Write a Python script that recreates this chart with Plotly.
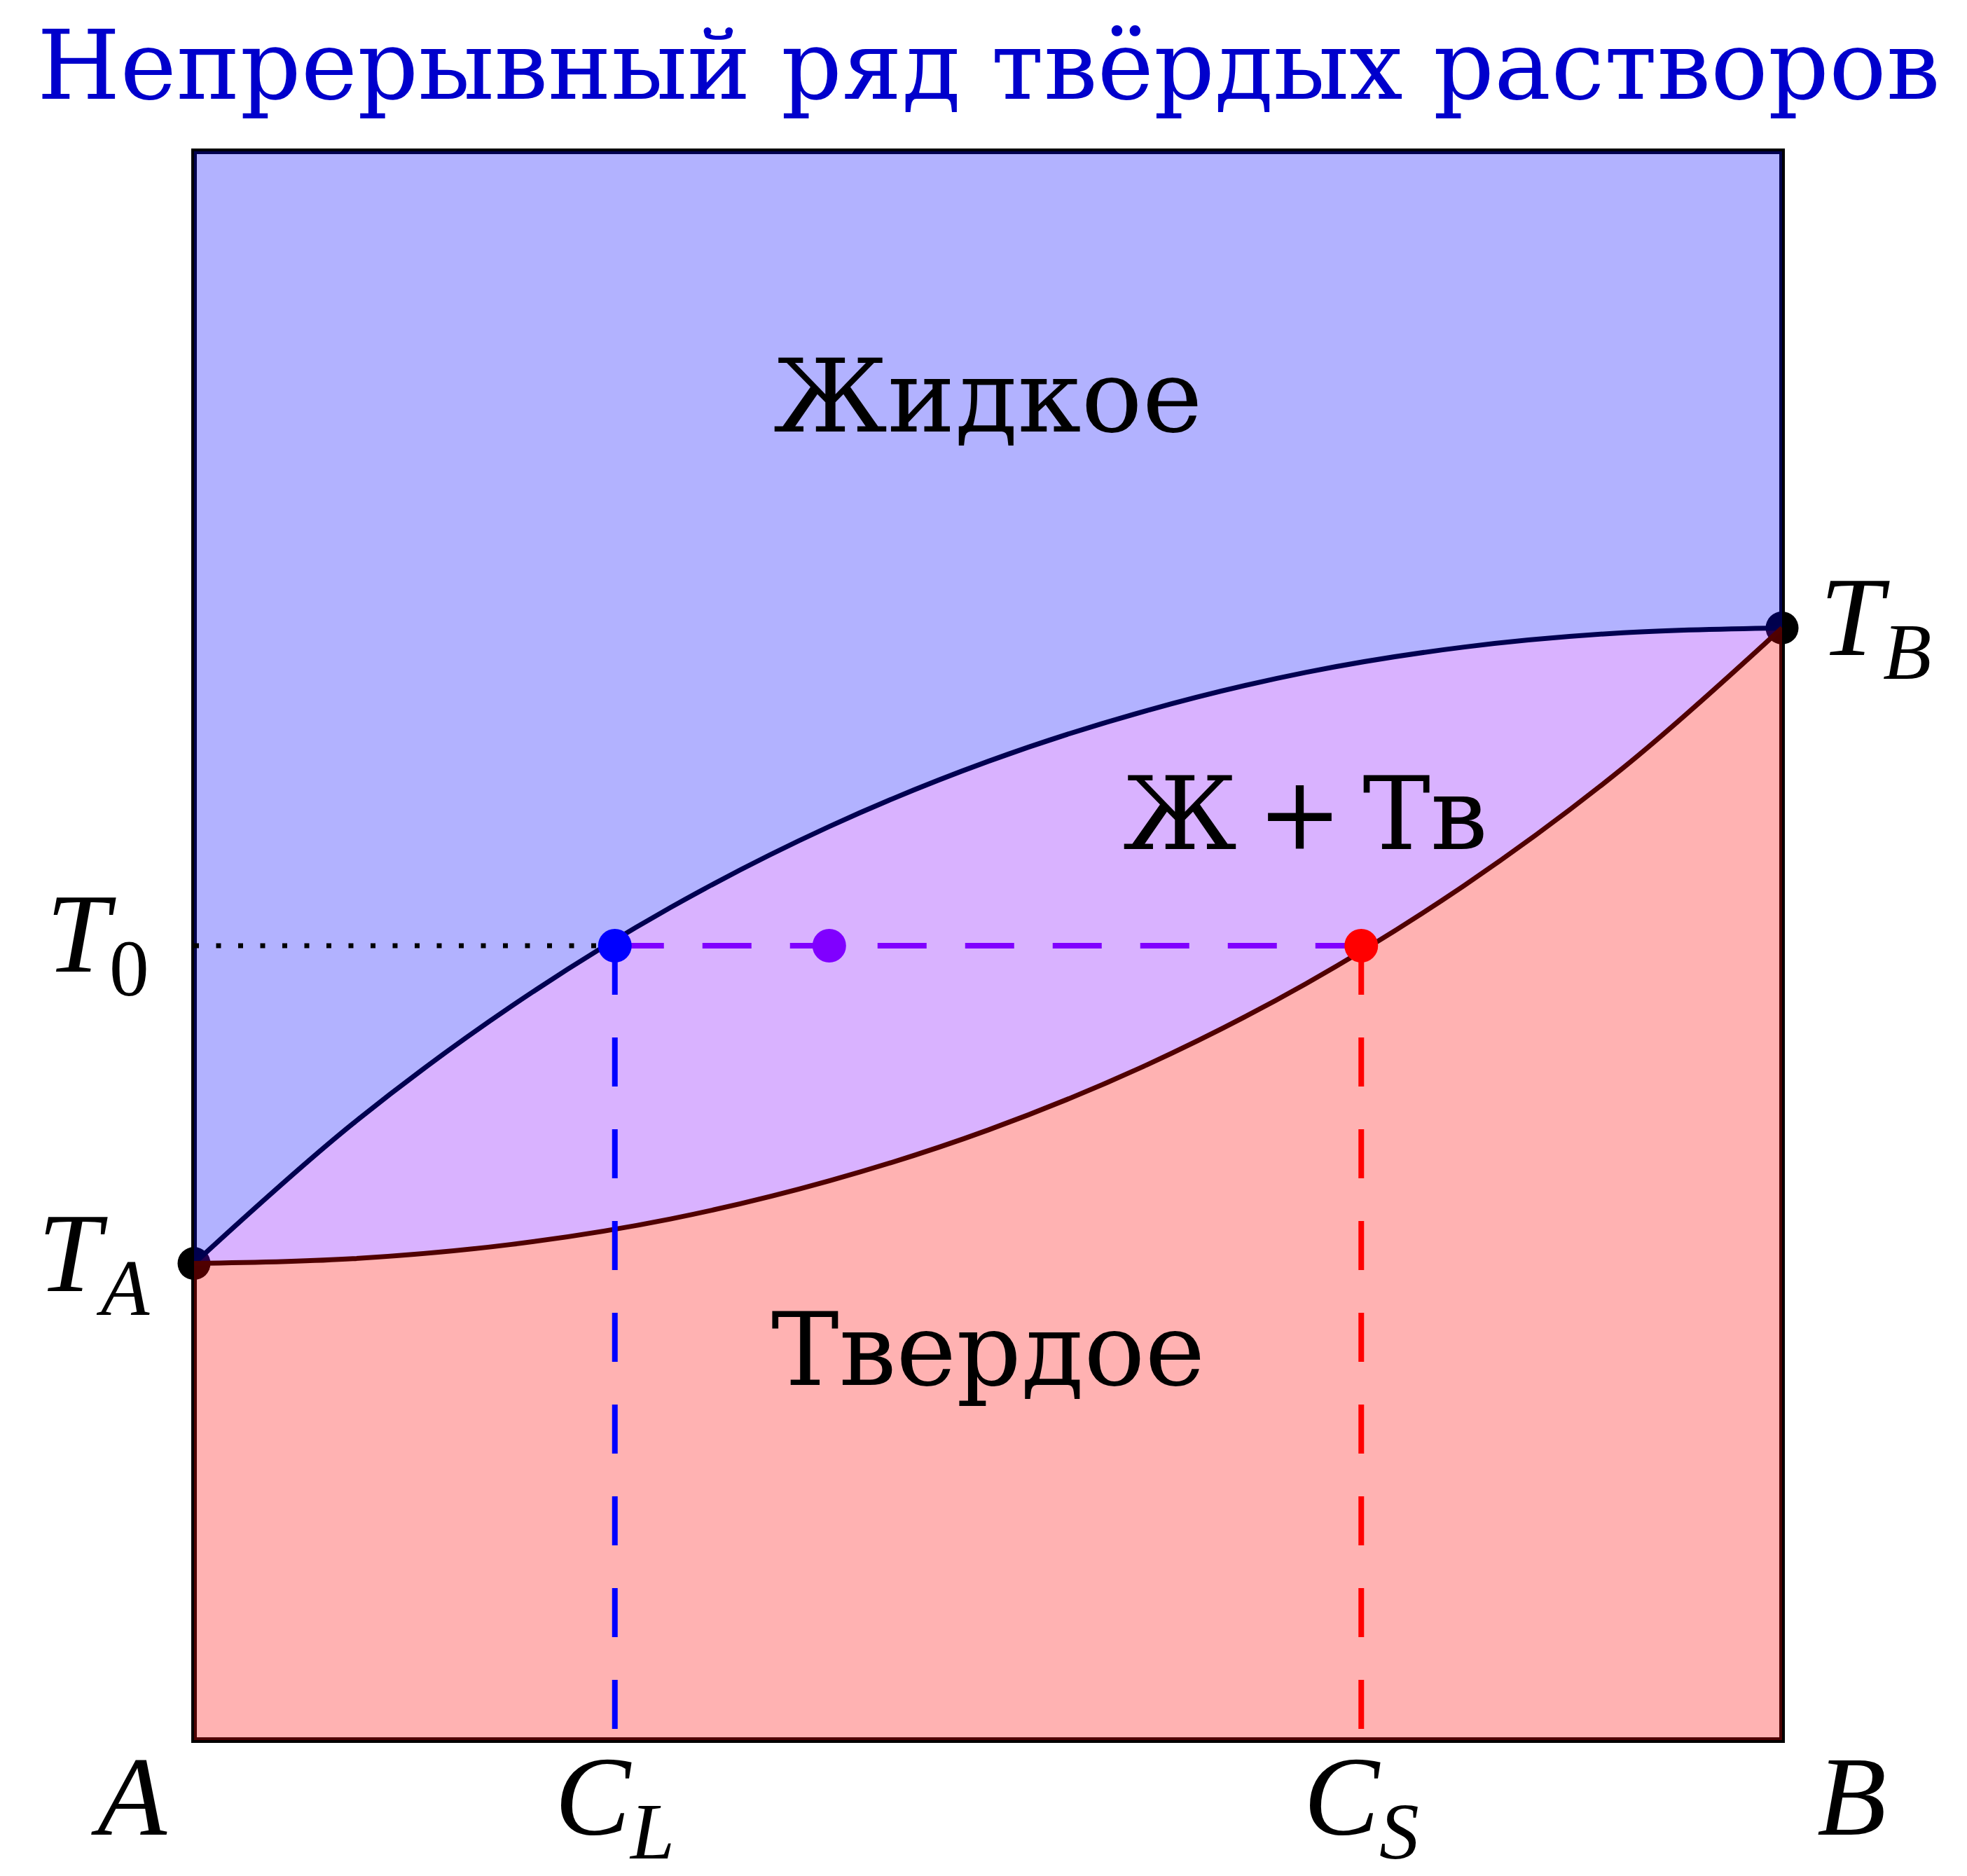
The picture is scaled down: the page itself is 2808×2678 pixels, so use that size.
import plotly.graph_objects as go

# ---- data ----
liquidus_x = [0.0, 0.1, 0.2, 0.3, 0.4, 0.5, 0.6, 0.7, 0.8, 0.9, 1.0]
liquidus_y = [0.300, 0.388, 0.462, 0.524, 0.575, 0.616, 0.648, 0.672, 0.688, 0.697, 0.700]
solidus_x = [0.0, 0.1, 0.2, 0.3, 0.4, 0.5, 0.6, 0.7, 0.8, 0.9, 1.0]
solidus_y = [0.300, 0.303, 0.312, 0.328, 0.352, 0.384, 0.425, 0.476, 0.538, 0.612, 0.700]
T_A, T_B, T_0 = 0.3, 0.7, 0.5
C_L, C_S, C_0 = 0.265, 0.735, 0.4

title_text = "Непрерывный ряд твёрдых растворов"
region_labels = ["Жидкое", "Ж\u2009+\u2009Тв", "Твердое"]
region_x = [0.5, 0.70, 0.5]
region_y = [0.846, 0.583, 0.246]

serif = "DejaVu Serif"
ital = "Liberation Serif"

fig = go.Figure()

# black melting-point dots (drawn first, under the translucent fills)
fig.add_trace(go.Scatter(x=[0, 1], y=[T_A, T_B], mode="markers",
                         marker=dict(size=47, color="black"), cliponaxis=False,
                         hoverinfo="skip"))
# top edge for liquid fill
fig.add_trace(go.Scatter(x=[0, 1], y=[1, 1], mode="lines",
                         line=dict(width=0), hoverinfo="skip"))
# liquid region
fig.add_trace(go.Scatter(x=liquidus_x, y=liquidus_y, mode="lines",
                         line=dict(width=0, shape="spline"), fill="tonexty",
                         fillcolor="rgba(0,0,255,0.3)", hoverinfo="skip"))
# two-phase region
fig.add_trace(go.Scatter(x=solidus_x, y=solidus_y, mode="lines",
                         line=dict(width=0, shape="spline"), fill="tonexty",
                         fillcolor="rgba(128,0,255,0.3)", hoverinfo="skip"))
# solid region
fig.add_trace(go.Scatter(x=solidus_x, y=solidus_y, mode="lines",
                         line=dict(width=0, shape="spline"), fill="tozeroy",
                         fillcolor="rgba(255,0,0,0.3)", hoverinfo="skip"))

# curves
fig.add_trace(go.Scatter(x=liquidus_x, y=liquidus_y, mode="lines",
                         line=dict(width=7, color="#000050", shape="spline"),
                         hoverinfo="skip"))
fig.add_trace(go.Scatter(x=solidus_x, y=solidus_y, mode="lines",
                         line=dict(width=7, color="#500000", shape="spline"),
                         hoverinfo="skip"))

# construction lines
fig.add_trace(go.Scatter(x=[0, C_L], y=[T_0, T_0], mode="lines",
                         line=dict(width=7, color="black", dash="7px,24.5px"),
                         hoverinfo="skip"))
fig.add_trace(go.Scatter(x=[C_L, C_S], y=[T_0, T_0], mode="lines",
                         line=dict(width=8, color="#8000FF", dash="70px,55px"),
                         hoverinfo="skip"))
fig.add_trace(go.Scatter(x=[C_L, C_L], y=[T_0, 0], mode="lines",
                         line=dict(width=8, color="#0000FF", dash="70px,61px"),
                         hoverinfo="skip"))
fig.add_trace(go.Scatter(x=[C_S, C_S], y=[T_0, 0], mode="lines",
                         line=dict(width=8, color="#FF0000", dash="70px,61px"),
                         hoverinfo="skip"))

# composition dots
fig.add_trace(go.Scatter(x=[C_L, C_0, C_S], y=[T_0, T_0, T_0], mode="markers",
                         marker=dict(size=48, color=["#0000FF", "#8000FF", "#FF0000"]),
                         cliponaxis=False, hoverinfo="skip"))

# frame (below traces so translucent fills tint its inner half)
fig.add_shape(type="rect", xref="paper", yref="paper", x0=0, x1=1, y0=0, y1=1,
              line=dict(color="black", width=8), layer="below")

ann = []
# region labels
for t, x, y in zip(region_labels, region_x, region_y):
    ann.append(dict(x=x, y=y, xref="x", yref="y", text=t, showarrow=False,
                    xanchor="center", yanchor="middle",
                    font=dict(family=serif, size=145, color="black")))
# temperature labels
lab_font = dict(family=ital, size=162, color="black")
ann.append(dict(x=0, y=T_A, xref="x", yref="y", text="<i>T</i><sub><i>A</i></sub>",
                showarrow=False, xanchor="right", yanchor="middle", xshift=-61, yshift=3,
                font=lab_font))
ann.append(dict(x=0, y=T_0, xref="x", yref="y", text="<i>T</i><sub>0</sub>",
                showarrow=False, xanchor="right", yanchor="middle", xshift=-62, yshift=6,
                font=lab_font))
ann.append(dict(x=1, y=T_B, xref="x", yref="y", text="<i>T</i><sub><i>B</i></sub>",
                showarrow=False, xanchor="left", yanchor="middle", xshift=52, yshift=4,
                font=lab_font))
# composition labels
ann.append(dict(x=0, y=0, xref="x", yref="y", text="<i>A</i>", showarrow=False,
                xanchor="center", yanchor="middle", xshift=-93, yshift=-80, font=lab_font))
ann.append(dict(x=1, y=0, xref="x", yref="y", text="<i>B</i>", showarrow=False,
                xanchor="center", yanchor="middle", xshift=99, yshift=-80, font=lab_font))
ann.append(dict(x=C_L, y=0, xref="x", yref="y", text="<i>C</i><sub><i>L</i></sub>",
                showarrow=False, xanchor="center", yanchor="middle", yshift=-92,
                font=lab_font))
ann.append(dict(x=C_S, y=0, xref="x", yref="y", text="<i>C</i><sub><i>S</i></sub>",
                showarrow=False, xanchor="center", yanchor="middle", yshift=-92,
                font=lab_font))
# title
ann.append(dict(x=0.5, y=1, xref="paper", yref="paper", text=title_text, showarrow=False,
                xanchor="center", yanchor="middle", yshift=122,
                font=dict(family=serif, size=136, color="#0000CC")))

fig.update_layout(
    width=2808, height=2678,
    margin=dict(l=269, r=272, t=208, b=202, pad=0),
    paper_bgcolor="white", plot_bgcolor="white",
    showlegend=False,
    xaxis=dict(range=[0, 1], visible=False, showgrid=False, zeroline=False),
    yaxis=dict(range=[0, 1], visible=False, showgrid=False, zeroline=False),
    annotations=ann,
)

fig.write_html("out.html")
